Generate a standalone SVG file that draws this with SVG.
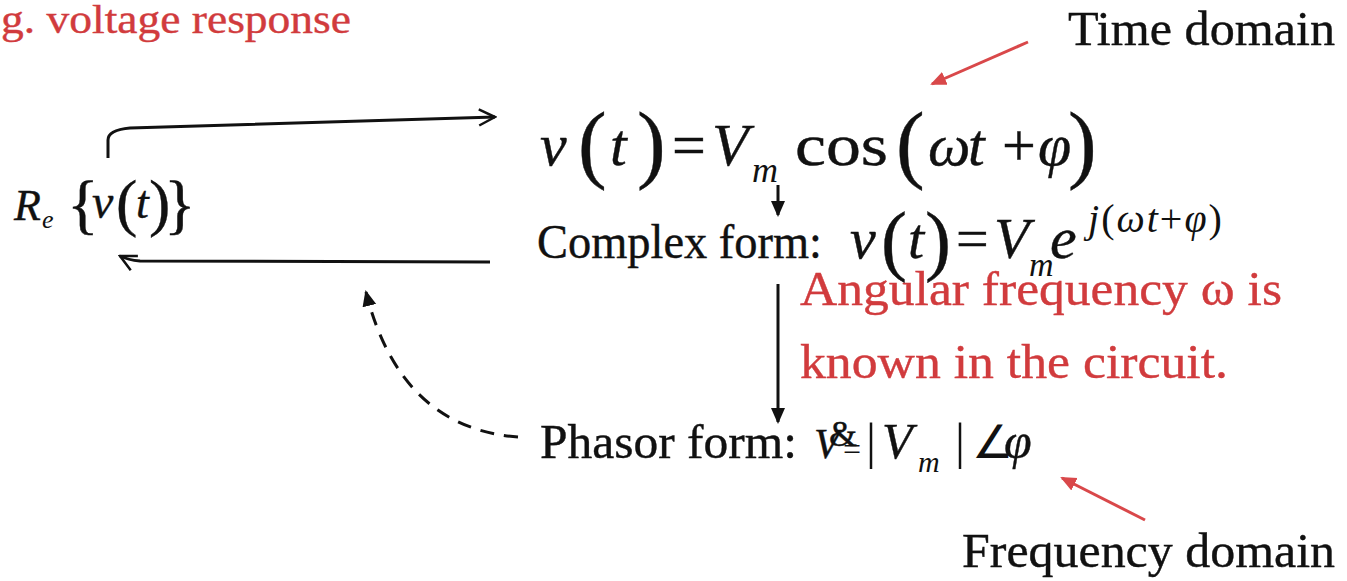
<svg xmlns="http://www.w3.org/2000/svg" width="1347" height="581" viewBox="0 0 1347 581">
<defs>
<style>
text{font-family:"Liberation Serif","Times New Roman",serif;fill:#111;stroke:#111;stroke-width:0.4}
.red{fill:#d13b3d;stroke:#d13b3d}
.i{font-style:italic}
.thin{stroke:none}
.lbl{font-size:49px}
.conn{fill:none;stroke:#111;stroke-width:3}
.rc{fill:none;stroke:#d9484a;stroke-width:3}
</style>
<marker id="chev" viewBox="0 0 20 20" refX="18" refY="10" markerWidth="20" markerHeight="20" markerUnits="userSpaceOnUse" orient="auto"><path d="M2,2 L18,10 L2,18" fill="none" stroke="#111" stroke-width="2.5"/></marker>
<marker id="tri" viewBox="0 0 16 16" refX="14" refY="8" markerWidth="16" markerHeight="16" markerUnits="userSpaceOnUse" orient="auto"><path d="M0,1 L16,8 L0,15 Z" fill="#111"/></marker>
<marker id="rtri" viewBox="0 0 16 16" refX="14" refY="8" markerWidth="16" markerHeight="16" markerUnits="userSpaceOnUse" orient="auto"><path d="M0,1 L16,8 L0,15 Z" fill="#d9484a"/></marker>
</defs>
<rect width="1347" height="581" fill="#fff"/>

<g id="title"><text class="red" x="1" y="33" font-size="40" textLength="350" lengthAdjust="spacingAndGlyphs">g. voltage response</text></g>

<g id="time-label"><text x="1068" y="45" font-size="48" textLength="267" lengthAdjust="spacingAndGlyphs">Time domain</text></g>

<g id="freq-label"><text x="962" y="567" font-size="48" textLength="373" lengthAdjust="spacingAndGlyphs">Frequency domain</text></g>

<g id="re-node">
<text x="14" y="220" font-size="44" class="i">R</text>
<text x="42" y="228" font-size="26" class="i thin">e</text>
<text x="67" y="226" font-size="66">{</text>
<text x="92" y="218" font-size="48" class="i">v</text>
<text x="116" y="224" font-size="64">(</text>
<text x="136" y="218" font-size="46" class="i">t</text>
<text x="149" y="224" font-size="64">)</text>
<text x="164" y="226" font-size="66">}</text>
</g>

<g id="time-eq">
<text x="540" y="165" font-size="60" class="i">v</text>
<text x="578" y="172" font-size="86">(</text>
<text x="610" y="165" font-size="60" class="i">t</text>
<text x="637" y="172" font-size="86">)</text>
<text x="672" y="165" font-size="60">=</text>
<text x="712" y="165" font-size="60" class="i">V</text>
<text x="752" y="182" font-size="36" class="i thin">m</text>
<text x="795" y="165" font-size="60" textLength="93" lengthAdjust="spacingAndGlyphs">cos</text>
<text x="896" y="172" font-size="86">(</text>
<text x="928" y="165" font-size="60" class="i">ω</text>
<text x="968" y="165" font-size="60" class="i">t</text>
<text x="1002" y="165" font-size="60">+</text>
<text x="1038" y="165" font-size="60" class="i">φ</text>
<text x="1068" y="172" font-size="86">)</text>
</g>

<g id="complex-node">
<text x="537" y="258" class="lbl" textLength="285" lengthAdjust="spacingAndGlyphs">Complex form:</text>
<text x="850" y="258" font-size="58" class="i">v</text>
<text x="881" y="266" font-size="78">(</text>
<text x="908" y="258" font-size="58" class="i">t</text>
<text x="925" y="266" font-size="78">)</text>
<text x="956" y="258" font-size="58">=</text>
<text x="994" y="258" font-size="58" class="i">V</text>
<text x="1029" y="276" font-size="34" class="i thin">m</text>
<text x="1050" y="258" font-size="60" class="i">e</text>
<text x="1088" y="232" font-size="40" class="thin" letter-spacing="2"><tspan class="i">j</tspan>(<tspan class="i">ωt</tspan>+<tspan class="i">φ</tspan>)</text>
</g>

<g id="note">
<text class="red lbl" x="800" y="305" textLength="482" lengthAdjust="spacingAndGlyphs">Angular frequency ω is</text>
<text class="red lbl" x="800" y="378" textLength="428" lengthAdjust="spacingAndGlyphs">known in the circuit.</text>
</g>

<g id="phasor-node">
<text x="540" y="458" class="lbl" textLength="257" lengthAdjust="spacingAndGlyphs">Phasor form:</text>
<text x="814" y="458" font-size="42" class="i">V</text>
<text x="829" y="446" font-size="36">&amp;</text>
<text x="843" y="460" font-size="32" class="thin">=</text>
<text x="866" y="458" font-size="50" class="thin">|</text>
<text x="882" y="458" font-size="50" class="i">V</text>
<text x="918" y="472" font-size="30" class="i thin">m</text>
<text x="955" y="458" font-size="50" class="thin">|</text>
<text x="972" y="458" font-size="46" class="thin">∠</text>
<text x="1004" y="458" font-size="50" class="i">φ</text>
</g>

<g id="connectors">
<path class="conn" d="M108,158 L108,140 Q108,130 130,128 L495,117" marker-end="url(#chev)"/>
<path class="conn" d="M490,262 L140,261 Q128,260 120,256" marker-end="url(#chev)"/>
<path class="conn" d="M778,185 L778,215" marker-end="url(#tri)"/>
<path class="conn" d="M778,284 L778,422" marker-end="url(#tri)"/>
<path class="conn" d="M518,437 Q400,428 366,292" stroke-dasharray="14,10" marker-end="url(#tri)"/>
<path class="rc" d="M1028,42 L932,84" marker-end="url(#rtri)"/>
<path class="rc" d="M1145,520 L1062,478" marker-end="url(#rtri)"/>
</g>
</svg>
